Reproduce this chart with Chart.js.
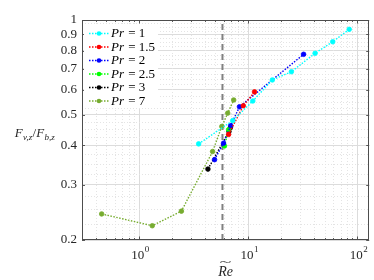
<!DOCTYPE html>
<html><head><meta charset="utf-8">
<script src="https://cdn.jsdelivr.net/npm/chart.js@4"></script>
<style>html,body{margin:0;padding:0;background:#fff}</style>
</head><body>
<canvas id="c" width="374" height="280" style="width:374px;height:280px;display:block"></canvas>
<script>
// ---- data ----
const prLabels = ['1', '1.5', '2', '2.5', '3', '7'];
const pr1X  = [3.51, 7.2, 11.0, 16.6, 24.8, 40.9, 59.3, 84.0];
const pr1Y  = [0.404, 0.479, 0.553, 0.645, 0.685, 0.784, 0.853, 0.934];
const pr15X = [6.6, 9.0, 11.4];
const pr15Y = [0.433, 0.534, 0.591];
const pr2X  = [4.91, 5.93, 6.9, 8.3, 32.1];
const pr2Y  = [0.360, 0.406, 0.462, 0.530, 0.778];
const pr25X = [6.05, 6.6];
const pr25Y = [0.398, 0.448];
const pr3X  = [4.27, 6.65, 6.85];
const pr3Y  = [0.336, 0.442, 0.455];
const pr7X  = [0.454, 1.32, 2.44, 4.71, 5.72, 6.48, 7.35];
const pr7Y  = [0.242, 0.222, 0.247, 0.382, 0.459, 0.506, 0.557];
const refX  = 5.8;   // dashed vertical line
const xMajorTicks = [1, 10, 100];
const xTickExp    = ['0', '1', '2'];
const yTicks      = [0.2, 0.3, 0.4, 0.5, 0.6, 0.7, 0.8, 0.9, 1];
const yTickLabels = ['0.2', '0.3', '0.4', '0.5', '0.6', '0.7', '0.8', '0.9', '1'];
const colors = ['#00FFFF', '#FF0000', '#0000FF', '#00FF00', '#000000', '#77AC30'];

const seriesX = [pr1X, pr15X, pr2X, pr25X, pr3X, pr7X];
const seriesY = [pr1Y, pr15Y, pr2Y, pr25Y, pr3Y, pr7Y];

const xMinor = [];
[0.1, 1, 10, 100].forEach(d => { for (let k = 2; k <= 9; k++) xMinor.push(d * k); });
const yMinor = [];
for (let v = 0.225; v < 1; v += 0.025) {
  const r = Math.round(v * 1000) / 1000;
  if (Math.abs(r * 10 - Math.round(r * 10)) > 1e-6) yMinor.push(r);
}

const SERIF = "'Liberation Serif', 'DejaVu Serif', serif";

const datasets = seriesX.map((xs, i) => ({
  label: 'Pr = ' + prLabels[i],
  data: xs.map((x, j) => ({ x: x, y: seriesY[i][j] })),
  showLine: true,
  borderColor: colors[i],
  backgroundColor: colors[i],
  pointBorderColor: colors[i],
  pointBackgroundColor: colors[i],
  borderDash: [1.5, 1.5],
  borderWidth: 1.4,
  pointRadius: 2.3,
  pointBorderWidth: 0.8,
  order: 1
}));
datasets.push({
  label: 'ref',
  data: [{ x: refX, y: 0.2 }, { x: refX, y: 1 }],
  showLine: true,
  borderColor: '#808080',
  borderWidth: 2,
  borderDash: [6, 4],
  pointRadius: 0,
  order: 2
});

const decor = {
  id: 'decor',
  beforeDatasetsDraw(chart) {
    const { ctx, chartArea: a, scales } = chart;
    const xs = scales.x, ys = scales.y;
    ctx.save();
    ctx.strokeStyle = '#e4e4e4';
    ctx.lineWidth = 1;
    ctx.setLineDash([1, 2]);
    xMinor.forEach(v => {
      if (v <= xs.min || v >= xs.max) return;
      const px = Math.round(xs.getPixelForValue(v)) + 0.5;
      ctx.beginPath(); ctx.moveTo(px, a.top); ctx.lineTo(px, a.bottom); ctx.stroke();
    });
    yMinor.forEach(v => {
      const py = Math.round(ys.getPixelForValue(v)) + 0.5;
      ctx.beginPath(); ctx.moveTo(a.left, py); ctx.lineTo(a.right, py); ctx.stroke();
    });
    ctx.restore();
  },
  afterDraw(chart) {
    const { ctx, chartArea: a, scales } = chart;
    const xs = scales.x, ys = scales.y;
    ctx.save();
    // ticks (inward)
    ctx.strokeStyle = '#333';
    ctx.lineWidth = 0.8;
    ctx.setLineDash([]);
    const xt = (v, len) => {
      const px = Math.round(xs.getPixelForValue(v)) + 0.5;
      ctx.beginPath();
      ctx.moveTo(px, a.bottom); ctx.lineTo(px, a.bottom - len);
      ctx.moveTo(px, a.top); ctx.lineTo(px, a.top + len);
      ctx.stroke();
    };
    xMajorTicks.forEach(v => xt(v, 3.5));
    xMinor.forEach(v => { if (v > xs.min && v < xs.max) xt(v, 2); });
    yTicks.forEach(v => {
      const py = Math.round(ys.getPixelForValue(v)) + 0.5;
      ctx.beginPath();
      ctx.moveTo(a.left, py); ctx.lineTo(a.left + 3, py);
      ctx.moveTo(a.right, py); ctx.lineTo(a.right - 3, py);
      ctx.stroke();
    });
    // frame
    ctx.strokeStyle = '#4d4d4d';
    ctx.lineWidth = 1;
    ctx.strokeRect(Math.round(a.left) + 0.5, Math.round(a.top) + 0.5,
                   Math.round(a.right - a.left) - 1, Math.round(a.bottom - a.top) - 1);

    // x tick labels 10^n
    ctx.fillStyle = '#262626';
    ctx.textBaseline = 'alphabetic';
    xMajorTicks.forEach((v, i) => {
      const px = xs.getPixelForValue(v);
      ctx.font = '13px ' + SERIF;
      const wb = ctx.measureText('10').width;
      ctx.font = '9px ' + SERIF;
      const we = ctx.measureText(xTickExp[i]).width;
      const x0 = px - (wb + we) / 2 + 1;
      ctx.font = '13px ' + SERIF;
      ctx.textAlign = 'left';
      ctx.fillText('10', x0, 259);
      ctx.font = '9px ' + SERIF;
      ctx.fillText(xTickExp[i], x0 + wb + 0.5, 252);
    });

    // x axis title: Re with wide tilde
    ctx.fillStyle = '#262626';
    ctx.font = 'italic 14px ' + SERIF;
    ctx.textAlign = 'center';
    const tx = (a.left + a.right) / 2;
    ctx.fillText('Re', tx, 276);
    const tw = ctx.measureText('Re').width;
    ctx.save();
    ctx.translate(tx, 265);
    ctx.scale(tw / 8, 0.8);
    ctx.font = '12px ' + SERIF;
    ctx.fillText('~', 0, 0);
    ctx.restore();

    // y axis title: F_{v,z}/F_{b,z}
    const parts = [
      ['F', 'italic 13px ' + SERIF, 0],
      ['v,z', 'italic 9px ' + SERIF, 3],
      ['/', '13px ' + SERIF, 0],
      ['F', 'italic 13px ' + SERIF, 0],
      ['b,z', 'italic 9px ' + SERIF, 3]
    ];
    let total = 0;
    parts.forEach(p => { ctx.font = p[1]; total += ctx.measureText(p[0]).width + 0.3; });
    let cx = 35 - total / 2;
    ctx.textAlign = 'left';
    parts.forEach(p => {
      ctx.font = p[1];
      ctx.fillText(p[0], cx, 137 + p[2]);
      cx += ctx.measureText(p[0]).width + 0.3;
    });

    // legend
    ctx.fillStyle = '#ffffff';
    ctx.fillRect(84, 24, 74, 84);
    prLabels.forEach((lab, i) => {
      const y = 33.5 + i * 13.5;
      ctx.strokeStyle = colors[i];
      ctx.lineWidth = 1.4;
      ctx.setLineDash([1.5, 1.5]);
      ctx.beginPath(); ctx.moveTo(89, y); ctx.lineTo(109, y); ctx.stroke();
      ctx.setLineDash([]);
      ctx.fillStyle = colors[i];
      ctx.beginPath(); ctx.arc(99, y, 2.3, 0, Math.PI * 2); ctx.fill();
      ctx.fillStyle = '#000';
      ctx.textAlign = 'left';
      ctx.textBaseline = 'middle';
      ctx.font = 'italic 13px ' + SERIF;
      ctx.fillText('Pr', 111, y + 0.5);
      const w = ctx.measureText('Pr').width;
      ctx.font = '13px ' + SERIF;
      ctx.fillText(' = ' + lab, 111 + w + 1, y + 0.5);
    });
    ctx.restore();
  }
};

new Chart(document.getElementById('c'), {
  type: 'scatter',
  data: { datasets: datasets },
  options: {
    responsive: false,
    animation: false,
    devicePixelRatio: 1,
    layout: { padding: { left: 0, right: 2, top: 20, bottom: 0 } },
    plugins: { legend: { display: false }, tooltip: { enabled: false } },
    scales: {
      x: {
        type: 'logarithmic',
        min: 0.3, max: 128,
        position: 'bottom',
        afterBuildTicks: s => { s.ticks = xMajorTicks.map(v => ({ value: v })); },
        afterFit: s => { s.height = 40; },
        ticks: { display: false, autoSkip: false },
        grid: { color: '#dcdcdc', lineWidth: 1, drawTicks: false },
        border: { display: false }
      },
      y: {
        type: 'logarithmic',
        min: 0.2, max: 1,
        position: 'left',
        afterBuildTicks: s => { s.ticks = yTicks.map(v => ({ value: v })); },
        afterFit: s => { s.width = 82; },
        ticks: {
          autoSkip: false,
          padding: 5,
          color: '#262626',
          font: { family: SERIF, size: 13 },
          callback: (v) => { const i = yTicks.indexOf(v); return i >= 0 ? yTickLabels[i] : ''; }
        },
        grid: { color: '#dcdcdc', lineWidth: 1, drawTicks: false },
        border: { display: false }
      }
    }
  },
  plugins: [decor]
});
</script>
</body></html>
